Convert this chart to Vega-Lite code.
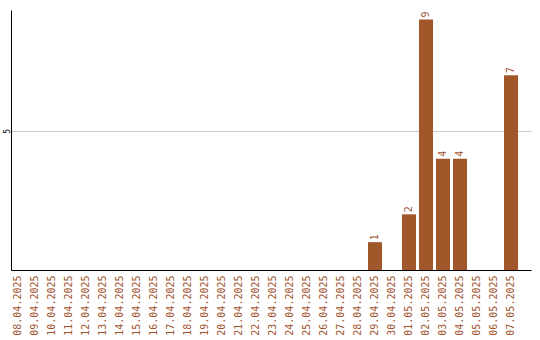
{
  "$schema": "https://vega.github.io/schema/vega-lite/v6.json",
  "width": 520,
  "height": 260,
  "autosize": "none",
  "padding": {"left": 11, "top": 10, "right": 9, "bottom": 70},
  "background": "white",
  "config": {"view": {"stroke": null}, "font": "DejaVu Sans Mono"},
  "data": {"values": [
    {"date": "08.04.2025", "v": 0}, {"date": "09.04.2025", "v": 0}, {"date": "10.04.2025", "v": 0},
    {"date": "11.04.2025", "v": 0}, {"date": "12.04.2025", "v": 0}, {"date": "13.04.2025", "v": 0},
    {"date": "14.04.2025", "v": 0}, {"date": "15.04.2025", "v": 0}, {"date": "16.04.2025", "v": 0},
    {"date": "17.04.2025", "v": 0}, {"date": "18.04.2025", "v": 0}, {"date": "19.04.2025", "v": 0},
    {"date": "20.04.2025", "v": 0}, {"date": "21.04.2025", "v": 0}, {"date": "22.04.2025", "v": 0},
    {"date": "23.04.2025", "v": 0}, {"date": "24.04.2025", "v": 0}, {"date": "25.04.2025", "v": 0},
    {"date": "26.04.2025", "v": 0}, {"date": "27.04.2025", "v": 0}, {"date": "28.04.2025", "v": 0},
    {"date": "29.04.2025", "v": 1}, {"date": "30.04.2025", "v": 0}, {"date": "01.05.2025", "v": 2},
    {"date": "02.05.2025", "v": 9}, {"date": "03.05.2025", "v": 4}, {"date": "04.05.2025", "v": 4},
    {"date": "05.05.2025", "v": 0}, {"date": "06.05.2025", "v": 0}, {"date": "07.05.2025", "v": 7}
  ]},
  "encoding": {
    "x": {"field": "date", "type": "ordinal", "sort": null,
      "scale": {"paddingInner": 0.176, "paddingOuter": 0.382, "align": 0},
      "axis": {"title": null, "labelAngle": -90, "labelColor": "#a0522d", "labelFontSize": 10,
        "labelFont": "DejaVu Sans Mono", "ticks": false, "domainColor": "black", "labelPadding": 5}},
    "y": {"field": "v", "type": "quantitative",
      "scale": {"domain": [0, 9.34], "nice": false},
      "axis": {"title": null, "values": [5], "labelAngle": -90, "labelFontSize": 8, "labelColor": "black",
        "ticks": false, "domainColor": "black", "gridColor": "#cccccc", "labelPadding": 4, "labelBaseline": "middle", "labelAlign": "center"}}
  },
  "layer": [
    {"mark": {"type": "bar", "color": "#a0572a"}},
    {"transform": [{"filter": "datum.v > 0"}],
     "mark": {"type": "text", "angle": -90, "align": "left", "baseline": "middle", "dx": 2, "color": "#a0522d", "fontSize": 10},
     "encoding": {"text": {"field": "v", "type": "quantitative"}}}
  ]
}
